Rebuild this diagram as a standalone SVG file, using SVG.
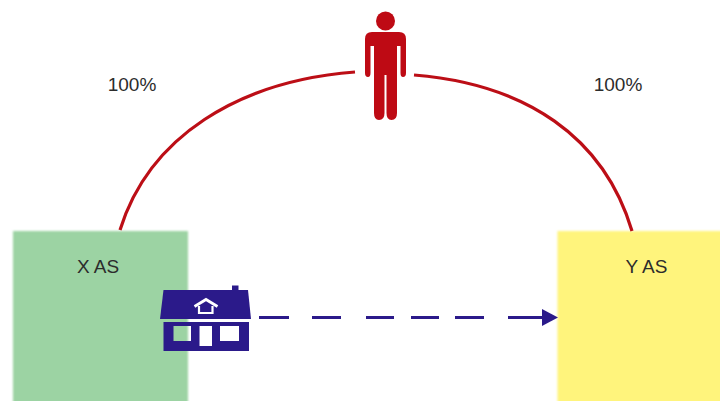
<svg xmlns="http://www.w3.org/2000/svg" width="720" height="401" viewBox="0 0 720 401">
<style>
.t{font-family:"Liberation Sans",Arial,sans-serif;font-size:19px;fill:#2c2c2c;text-anchor:middle}
.arc{fill:none;stroke:#BC0E16;stroke-width:3.2;stroke-linecap:butt}
.dash{fill:none;stroke:#2B1A8A;stroke-width:3.2}
.hs{fill:#2B1A8A}
</style>
<defs>
<filter id="soft" x="-5%" y="-5%" width="110%" height="110%"><feGaussianBlur stdDeviation="0.8"/></filter>
</defs>
<rect width="720" height="401" fill="#fff"/>
<g id="x-as"><rect x="13" y="231" width="175" height="175" fill="#9CD3A3" filter="url(#soft)"/><text class="t" x="98" y="273">X AS</text></g>
<g id="y-as"><rect x="557.5" y="231" width="170" height="175" fill="#FFF47B" filter="url(#soft)"/><text class="t" x="646.500" y="273">Y AS</text></g>
<g id="connectors">
<path class="arc" d="M120 230C149 137 238 81 355 72"/>
<path class="arc" d="M414 75C526 84 604 137 632 231"/>
<path class="dash" d="M259 317.500H289M312 317.500H341M366 317.500H394M411 317.500H439M455 317.500H484M508 317.500H544"/>
<path d="M542 309L558 317.500L542 326Z" fill="#2B1A8A"/>
</g>
<g id="person" fill="#BE0A14">
<circle cx="385.500" cy="21" r="9.500"/>
<path d="M372 32H399Q406 32 406 39V73Q406 77 403 77Q400.500 77 400.500 73V46H397V113Q397 120 391.500 120Q386.500 120 386.500 113V75H384.500V113Q384.500 120 379 120Q374 120 374 113V46H370.500V73Q370.500 77 368 77Q365 77 365 73V39Q365 32 372 32Z"/>
</g>
<g id="house">
<path class="hs" d="M232 285.500H238.500V291H232Z"/>
<path class="hs" d="M163.500 290H248L251 319H160Z"/>
<path class="hs" fill-rule="evenodd" d="M163.500 322H249V351H163.500ZM173.500 326V341H191V326ZM199.500 326V346H212V326ZM220 326V341H239V326Z"/>
<path d="M194.500 306.500L206 299.500L217.500 306.500" fill="none" stroke="#fff" stroke-width="2.800"/>
<path d="M199 306V313H212.500V306" fill="none" stroke="#fff" stroke-width="2.200"/>
</g>
<g id="labels"><text class="t" x="132" y="91">100%</text><text class="t" x="618" y="91">100%</text></g>
</svg>
